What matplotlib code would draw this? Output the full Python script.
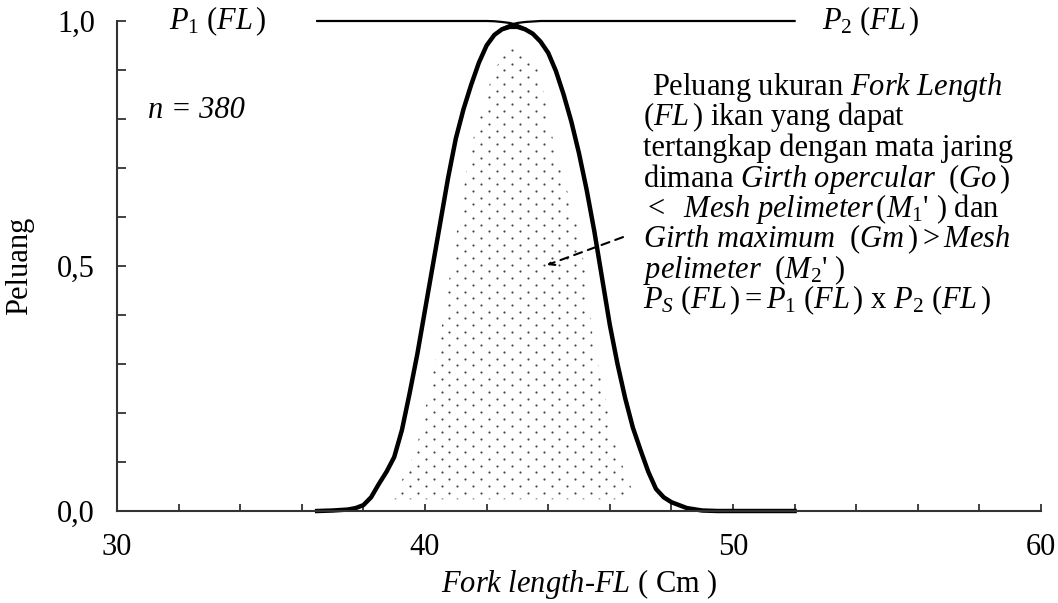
import numpy as np
import matplotlib
matplotlib.use('Agg')
from matplotlib import pyplot as plt
from matplotlib.patches import Polygon

plt.rcParams['font.family'] = 'Liberation Serif'
plt.rcParams['mathtext.fontset'] = 'custom'
plt.rcParams['mathtext.rm'] = 'Liberation Serif'
plt.rcParams['mathtext.it'] = 'Liberation Serif:italic'
plt.rcParams['mathtext.bf'] = 'Liberation Serif:bold'

# fork length (cm) and the two probabilities
fl = [36.5, 37, 37.5, 37.75, 38, 38.25, 38.5, 38.75, 39, 39.25, 39.5, 39.75,
      40, 40.25, 40.5, 40.75, 41, 41.25, 41.5, 41.75, 42, 42.25, 42.5, 42.75,
      43, 43.25, 43.5, 43.75, 44, 44.25, 44.5, 44.75, 45, 45.25, 45.5, 45.75,
      46, 46.25, 46.5, 46.75, 47, 47.25, 47.5, 47.75, 48, 48.5, 49, 49.5, 50,
      51, 52]
p2 = [0, 0.001, 0.003, 0.006, 0.012, 0.028, 0.055, 0.08, 0.11, 0.165, 0.24,
      0.32, 0.41, 0.5, 0.59, 0.68, 0.76, 0.82, 0.87, 0.915, 0.95, 0.972, 0.985,
      0.992, 0.996, 0.998, 0.999, 1, 1, 1, 1, 1, 1, 1, 1, 1, 1, 1, 1, 1, 1, 1,
      1, 1, 1, 1, 1, 1, 1, 1, 1]
p1 = [1, 1, 1, 1, 1, 1, 1, 1, 1, 1, 1, 1, 1, 1, 1, 1, 1, 1, 1, 1, 1, 0.9995,
      0.998, 0.996, 0.992, 0.985, 0.975, 0.958, 0.935, 0.898, 0.85, 0.795,
      0.73, 0.655, 0.57, 0.475, 0.38, 0.3, 0.23, 0.17, 0.124, 0.08, 0.045,
      0.028, 0.018, 0.006, 0.001, 0, 0, 0, 0]
ps = np.array(p1) * np.array(p2)

# outline of the dotted area
stip_x = [38.96, 39.71, 40.19, 40.49, 40.94, 41.46, 42.21, 42.69, 43.21, 43.73,
          44.22, 44.97, 45.23, 45.45, 45.75, 46.23, 46.75, 46.56]
stip_y = [0.024, 0.124, 0.259, 0.355, 0.533, 0.737, 0.894, 0.947, 0.947, 0.894,
          0.737, 0.578, 0.478, 0.355, 0.259, 0.122, 0.039, 0.024]

fs = 22
fig = plt.figure(figsize=(10.58, 6.03), dpi=100)
ax = fig.add_axes([117/1058, 1-511/603, 924/1058, 490/603])
ax.set_xlim(30, 60)
ax.set_ylim(0, 1)

# dotted texture, staggered rows, clipped to the outline
poly = Polygon(np.column_stack([stip_x, stip_y]), closed=True,
               facecolor='none', edgecolor='none', transform=ax.transData)
ax.add_patch(poly)
dx = 15.7 / 30.8   # dot pitch along a row (cm)
dy = 6.7 / 490     # row pitch
gx, gy = [], []
for k, yy in enumerate(np.arange(0.024, 0.96, dy)):
    xs = np.arange(38.5 + (dx / 2) * (k % 2), 47.5, dx)
    gx.extend(xs)
    gy.extend([yy] * len(xs))
dots = ax.scatter(gx, gy, s=2.4, color='#444444', linewidths=0)
dots.set_clip_path(poly)

ax.plot(fl, p1, color='black', lw=1.6, clip_on=False)
ax.plot(fl, p2, color='black', lw=1.6, clip_on=False)
ax.plot(fl, ps, color='black', lw=3.2, clip_on=False, solid_joinstyle='round')

for s in ['top', 'right']:
    ax.spines[s].set_visible(False)
for s in ['left', 'bottom']:
    ax.spines[s].set_linewidth(1.5)
    ax.spines[s].set_color('#333333')

ax.set_xticks([30, 40, 50, 60])
ax.set_xticks(np.arange(30, 61, 2), minor=True)
ax.set_yticks([0, 0.5, 1.0])
ax.set_yticklabels(['0,0', '0,5', '1,0'])
ax.set_yticks(np.arange(0, 1.01, 0.1), minor=True)
ax.tick_params(which='both', direction='in', color='#333333', width=1.3,
               labelsize=fs)
ax.tick_params(axis='y', which='both', length=6.5, pad=16)
ax.tick_params(axis='x', which='both', length=5, pad=16)

ax.set_ylabel('Peluang', fontsize=fs, va='center')
ax.yaxis.set_label_coords(-0.105, 0.5)
ax.set_xlabel(r'$\mathit{Fork\ length}$-$\mathit{FL}$ ( Cm )', fontsize=fs)
ax.xaxis.set_label_coords(0.5, -0.115)

ax.text(31.7, 1.0, r'$P_{1}\ (FL\,)$', fontsize=fs, va='center')
ax.text(52.9, 1.0, r'$P_{2}\ (FL\,)$', fontsize=fs, va='center')
ax.text(31.0, 0.818, 'n = 380', fontsize=fs, style='italic', va='center')

lines = [
    r'Peluang ukuran $\mathit{Fork\ Length}$',
    r'$(FL\,)$ ikan yang dapat',
    'tertangkap dengan mata jaring',
    r'dimana $\mathit{Girth\ opercular}\ \ (\mathit{Go}\,)$',
    r'$<\ \ \mathit{Mesh\ pelimeter}\,(M_{1}$' + "' ) dan",
    r'$\mathit{Girth\ maximum}\ \ (\mathit{Gm}\,) > \mathit{Mesh}$',
    r'$\mathit{pelimeter}\ \ (M_{2}$' + "' )",
    r'$P_{S}\ (FL\,) = P_{1}\ (FL\,)$ x $P_{2}\ (FL\,)$',
]
for i, t in enumerate(lines):
    x0 = 47.37 if i == 0 else 47.08
    yb = (511 - (95 + 30.5 * i)) / 490
    ax.text(x0, yb, t, fontsize=fs, va='baseline', ha='left')

ax.annotate('', xy=(43.96, 0.502), xytext=(46.43, 0.559),
            arrowprops=dict(arrowstyle='->', linestyle=(0, (4, 3)), lw=1.5,
                            color='black', shrinkA=0, shrinkB=0))

fig.savefig('out.png', dpi=100)
